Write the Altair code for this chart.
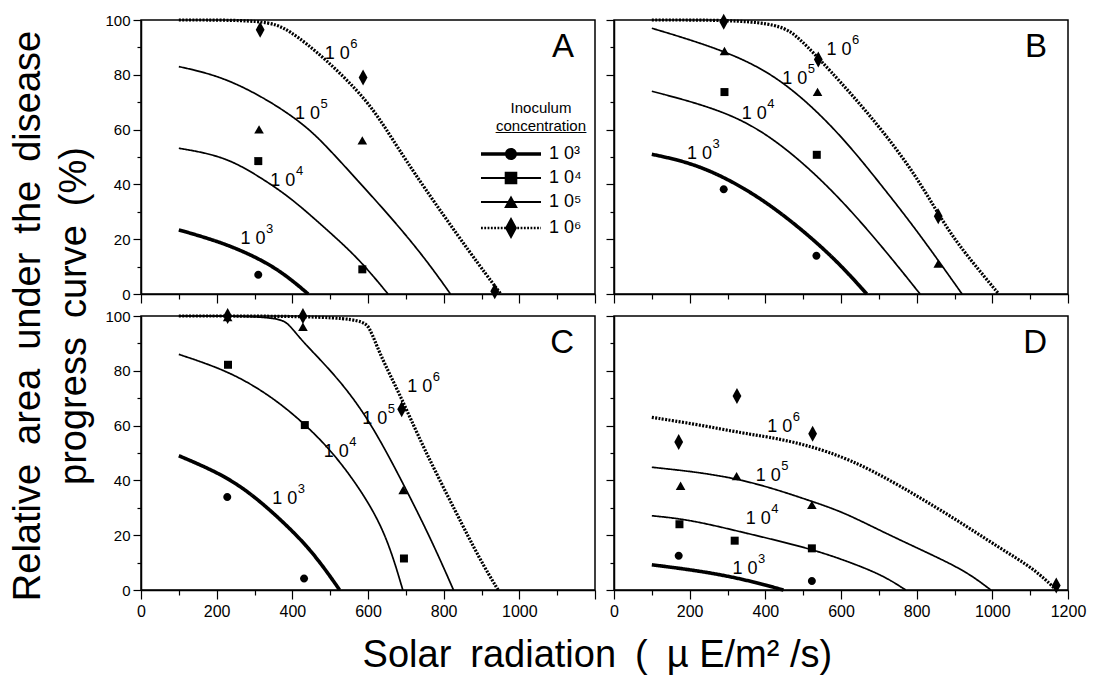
import altair as alt
import pandas as pd

FONT = "Liberation Sans, Arial, Helvetica, sans-serif"

SERIES = ["1e3", "1e4", "1e5", "1e6"]
SERIES_TEXT = ["1 0³", "1 0⁴", "1 0⁵", "1 0⁶"]
SERIES_EXP = ["3", "4", "5", "6"]

X_TICKS = list(range(0, 1201, 100))
Y_TICKS = list(range(0, 101, 10))

# ---- curves (x = solar radiation, y = relative AUDPC %) ----
A_E3 = [(100, 23.4), (203, 19.3), (291, 14.4), (371, 8.3), (442, 0)]
A_E4 = [(100, 53.2), (221, 50.3), (318, 42.4), (397, 35), (486, 24.1), (574, 13.2), (653, 0)]
A_E5 = [(100, 83), (212, 79.5), (328, 71.5), (420, 63), (477, 56), (574, 41.2), (662, 27.8), (750, 13.2), (818, 0)]
A_E6 = [(100, 100), (331, 100), (389, 96.7), (487, 86), (601, 70.4), (662, 57), (742, 40), (875, 14), (951, 0)]

B_E3 = [(100, 51), (222, 47.4), (362, 37.6), (485, 25), (591, 11.9), (668, 0)]
B_E4 = [(100, 74), (292, 67), (424, 57), (573, 38.8), (705, 18), (809, 0)]
B_E5 = [(100, 97), (292, 89), (441, 79), (591, 59.6), (705, 40), (802, 23), (920, 0)]
B_E6 = [(100, 100), (424, 100), (485, 94), (538, 86.5), (661, 68), (793, 45), (881, 23), (969, 8), (1017, 0)]

C_E3 = [(100, 49), (212, 42.4), (291, 35.2), (371, 25.5), (442, 15.7), (495, 6), (525, 0)]
C_E4 = [(100, 86), (230, 80), (336, 71.5), (424, 61.8), (512, 49.7), (600, 32.7), (653, 18.2), (692, 0)]
C_E5 = [(100, 100), (360, 100), (392, 97), (424, 91), (512, 78.8), (600, 63), (689, 40), (768, 18.2), (826, 0)]
C_E6 = [(100, 100), (578, 100), (605, 96), (631, 86), (684, 71.5), (746, 52), (834, 28), (896, 11), (944, 0)]

D_E3 = [(100, 9.2), (226, 7), (342, 4), (448, 0)]
D_E4 = [(100, 27.1), (200, 25.7), (342, 21), (518, 15.2), (625, 10.1), (713, 5.2), (771, 0)]
D_E5 = [(100, 44.8), (324, 41.5), (518, 32.6), (607, 28.4), (713, 21), (846, 12.5), (934, 6.5), (996, 0)]
D_E6 = [(100, 63), (217, 60.5), (350, 57), (403, 56), (501, 53.3), (625, 47.8), (757, 38), (890, 27),
        (1023, 15), (1111, 7.7), (1169, 0)]

# ---- observed points (series, x, y) ----
A_PTS = [("1e3", 310, 7), ("1e4", 310, 48.5), ("1e4", 585, 9), ("1e5", 312, 60), ("1e5", 585, 56),
         ("1e6", 315, 96.4), ("1e6", 587, 79), ("1e6", 935, 1)]
B_PTS = [("1e3", 290, 38.2), ("1e3", 535, 14), ("1e4", 292, 73.7), ("1e4", 536, 50.8),
         ("1e5", 292, 88.6), ("1e5", 538, 73.7), ("1e5", 857, 11),
         ("1e6", 290, 99.4), ("1e6", 540, 85.6), ("1e6", 857, 28.4)]
C_PTS = [("1e3", 228, 33.9), ("1e3", 431, 4.2), ("1e4", 230, 82.2), ("1e4", 433, 60.2), ("1e4", 695, 11.5),
         ("1e5", 229, 99.5), ("1e5", 428, 96), ("1e5", 693, 36.4),
         ("1e6", 229, 100), ("1e6", 428, 100), ("1e6", 689, 66)]
D_PTS = [("1e3", 171, 12.5), ("1e3", 523, 3.3), ("1e4", 173, 24), ("1e4", 319, 18), ("1e4", 523, 15.2),
         ("1e5", 176, 38), ("1e5", 324, 41.5), ("1e5", 523, 31),
         ("1e6", 171, 54), ("1e6", 325, 70.8), ("1e6", 525, 57), ("1e6", 1169, 1.6)]

# ---- curve label anchors (series, x, y) ----
A_LAB = [("1e6", 519, 87.6), ("1e5", 440, 65.6), ("1e4", 375, 41.2), ("1e3", 296, 19.9)]
B_LAB = [("1e6", 595, 89), ("1e5", 478, 78.6), ("1e4", 371, 65.7), ("1e3", 226, 51)]
C_LAB = [("1e6", 737, 74), ("1e5", 618, 62.4), ("1e4", 516, 50.3), ("1e3", 380, 33.3)]
D_LAB = [("1e6", 438, 59.5), ("1e5", 408, 41.7), ("1e4", 381, 26), ("1e3", 346, 7.7)]

PANEL_W, PANEL_H = 454, 274

# line styles per series: (strokeWidth, strokeDash)
LINE_STYLE = {"1e3": (3.6, [1, 0]), "1e4": (1.7, [1, 0]), "1e5": (1.7, [1, 0]), "1e6": (3.2, [2, 1.4])}

# marker paths (unit square)
P_CIRCLE = "M0.5,0A0.5,0.5,0,1,1,-0.5,0A0.5,0.5,0,1,1,0.5,0Z"
P_SQUARE = "M-0.5,-0.5H0.5V0.5H-0.5Z"
P_TRI = "M0,-0.55L0.6,0.5H-0.6Z"
P_DIAMOND = "M0,-1L0.55,0L0,1L-0.55,0Z"

K = 3.0  # legend path scale (symbolSize 400 -> 10 px per unit)


def rect(x0, x1, h):
    return f"M{x0*K:.3f},{-h*K:.3f}H{x1*K:.3f}V{h*K:.3f}H{x0*K:.3f}Z"


def dotted(h):
    parts = []
    x = -1.0
    while x < 1.0:
        if not (-0.12 < x < 0.09):
            parts.append(rect(x, min(x + 0.06, 1.0), h))
        x += 0.11
    return "".join(parts)


def sc(path_pts):
    return path_pts.format(*[f"{v*K:.3f}" for v in (0.2, 0.21, 0.22, 0.23, 0.37)])


LEG_PATHS = [
    rect(-1, 1, 0.055) + sc("M{0},0A{0},{0},0,1,1,-{0},0A{0},{0},0,1,1,{0},0Z"),
    rect(-1, 1, 0.03) + sc("M-{1},-{1}H{1}V{1}H-{1}Z"),
    rect(-1, 1, 0.03) + sc("M0,-{2}L{3},{0}H-{3}Z"),
    dotted(0.045) + sc("M0,-{4}L{0},0L0,{4}L-{0},0Z"),
]


def underline(s):
    return "".join(c + "\u0332" for c in s)


def curve_frame(curves):
    rows = []
    for s, pts in zip(SERIES, curves):
        for i, (x, y) in enumerate(pts):
            rows.append({"x": x, "y": y, "series": s, "o": i})
    return pd.DataFrame(rows)


def panel(letter, curves, pts, labs, x_labels, y_labels, legend=False):
    xsc = alt.Scale(domain=[0, 1200], nice=False, zero=False)
    ysc = alt.Scale(domain=[0, 100], nice=False)
    if x_labels == "C":
        xexpr = "datum.value % 200 === 0 && datum.value <= 1000 ? datum.label : ''"
    else:
        xexpr = "datum.value % 200 === 0 ? datum.label : ''"
    xaxis = alt.Axis(values=X_TICKS, labels=bool(x_labels), labelExpr=xexpr, title=None, grid=False,
                     tickSize={"condition": {"test": "datum.value % 200 === 0", "value": 9}, "value": 5},
                     labelFontSize=16, labelPadding=4, format="d", labelFlush=False)
    yaxis = alt.Axis(values=Y_TICKS, labels=y_labels, labelExpr="datum.value % 20 === 0 ? datum.label : ''",
                     title=None, grid=False,
                     tickSize={"condition": {"test": "datum.value % 20 === 0", "value": 8}, "value": 4},
                     labelFontSize=15, labelPadding=3, format="d", labelFlush=False)
    X = alt.X("x:Q", scale=xsc, axis=xaxis)
    Y = alt.Y("y:Q", scale=ysc, axis=yaxis)

    cdf = curve_frame(curves)
    layers = []
    for s in SERIES:
        w, d = LINE_STYLE[s]
        layers.append(
            alt.Chart(cdf).transform_filter(alt.datum.series == s)
            .mark_line(interpolate="basis", color="black", strokeWidth=w, strokeDash=d)
            .encode(x=X, y=Y, order="o:Q")
        )

    pdf = pd.DataFrame(pts, columns=["series", "x", "y"])
    points = alt.Chart(pdf).mark_point(filled=True, size=256, color="black", opacity=1, strokeWidth=0).encode(
        x=X, y=Y,
        shape=alt.Shape("series:N", scale=alt.Scale(domain=SERIES, range=[P_CIRCLE, P_SQUARE, P_TRI, P_DIAMOND]),
                        legend=None),
    )

    ldf = pd.DataFrame(labs, columns=["series", "x", "y"])
    ldf["exp"] = ldf["series"].map(dict(zip(SERIES, SERIES_EXP)))
    ldf["base"] = "1 0"
    base = alt.Chart(ldf).mark_text(fontSize=18, font=FONT, color="black", align="center",
                                    baseline="middle").encode(x=X, y=Y, text="base:N")
    sup = alt.Chart(ldf).mark_text(fontSize=13, font=FONT, color="black", align="left",
                                   baseline="middle", dx=13, dy=-10).encode(x=X, y=Y, text="exp:N")

    let = alt.Chart(pd.DataFrame({"t": [letter]})).mark_text(
        fontSize=33, font=FONT, color="black", align="right", baseline="middle"
    ).encode(x=alt.value(PANEL_W - 21), y=alt.value(27), text="t:N")

    layers += [points, base, sup, let]
    if legend:
        legdf = pd.DataFrame({"k": SERIES_TEXT})
        leg = alt.Chart(legdf).mark_point(filled=True, opacity=0, color="black").encode(
            x=alt.value(0), y=alt.value(0),
            shape=alt.Shape("k:N", sort=SERIES_TEXT,
                            scale=alt.Scale(domain=SERIES_TEXT, range=LEG_PATHS),
                            legend=alt.Legend(
                                title=["Inoculum", underline("concentration")],
                                orient="none", legendX=355, legendY=81,
                                titleFontSize=15, titleFont=FONT, titleFontWeight="normal",
                                titleColor="black", titleAnchor="middle", titleAlign="center",
                                titleLineHeight=18, titlePadding=10,
                                labelFontSize=18, labelFont=FONT, labelColor="black", labelOffset=28,
                                symbolSize=400, symbolFillColor="black", symbolStrokeWidth=0,
                                symbolOpacity=1, rowPadding=5,
                            )),
        )
        layers.append(leg)

    ch = alt.layer(*layers).resolve_scale(shape="independent").properties(width=PANEL_W, height=PANEL_H)
    return ch


pA = panel("A", [A_E3, A_E4, A_E5, A_E6], A_PTS, A_LAB, False, True, legend=True)
pB = panel("B", [B_E3, B_E4, B_E5, B_E6], B_PTS, B_LAB, False, False)
pC = panel("C", [C_E3, C_E4, C_E5, C_E6], C_PTS, C_LAB, "C", True)
pD = panel("D", [D_E3, D_E4, D_E5, D_E6], D_PTS, D_LAB, "D", False)

grid = alt.concat(pA, pB, pC, pD, columns=2, spacing={"row": 22, "column": 19}, bounds="flush").properties(
    title=alt.TitleParams(
        text=["Relative\u2002area\u2002under\u2002the\u2002disease", "progress\u2002curve\u2002(%)"],
        orient="left", anchor="middle", frame="bounds", fontSize=38, font=FONT, fontWeight="normal",
        color="black", lineHeight=46, offset=10,
    )
)

chart = alt.vconcat(grid).properties(
    title=alt.TitleParams(
        text="Solar\u2002radiation\u2002(\u2002µ E/m² /s)",
        orient="bottom", anchor="middle", frame="bounds", fontSize=38, font=FONT, fontWeight="normal",
        color="black", offset=17, dx=49,
    ),
    padding={"left": 10, "top": 12, "right": 5, "bottom": 5},
).configure_view(
    stroke="black", strokeWidth=1.5
).configure_axis(
    domainColor="black", domainWidth=1.5, tickColor="black", tickWidth=1.2,
    labelColor="black", labelFont=FONT,
)

chart.save("out.html", embed_options={"renderer": "svg", "actions": False})
